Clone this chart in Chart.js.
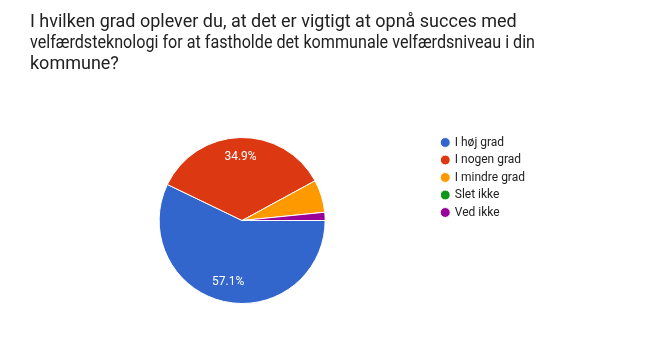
<!DOCTYPE html>
<html>
<head>
<meta charset="utf-8">
<script src="https://cdn.jsdelivr.net/npm/chart.js@4/dist/chart.umd.min.js"></script>
<style>
  html, body { margin: 0; padding: 0; background: #ffffff; }
  #wrap { width: 658px; height: 364px; }
</style>
</head>
<body>
<div id="wrap"><canvas id="c" width="658" height="364"></canvas></div>
<script>
const titleLines = [
  'I hvilken grad oplever du, at det er vigtigt at opnå succes med',
  'velfærdsteknologi for at fastholde det kommunale velfærdsniveau i din',
  'kommune?'
];
const categories = ['I høj grad', 'I nogen grad', 'I mindre grad', 'Slet ikke', 'Ved ikke'];
const responses = [36, 22, 4, 0, 1];
const sliceColors = ['#3366cc', '#dc3912', '#ff9900', '#109618', '#990099'];

const pctLabels = {
  id: 'pctLabels',
  afterDatasetsDraw(chart) {
    const meta = chart.getDatasetMeta(0);
    const data = chart.data.datasets[0].data;
    const total = data.reduce((a, b) => a + b, 0);
    const ctx = chart.ctx;
    ctx.save();
    ctx.font = '12px Roboto';
    ctx.fillStyle = '#ffffff';
    ctx.textAlign = 'center';
    ctx.textBaseline = 'middle';
    meta.data.forEach((arc, i) => {
      const frac = data[i] / total;
      if (frac < 0.1) return;
      const p = arc.getProps(['x', 'y', 'startAngle', 'endAngle', 'outerRadius'], true);
      const mid = (p.startAngle + p.endAngle) / 2;
      const r = p.outerRadius * 0.76;
      ctx.fillText((frac * 100).toFixed(1) + '%', p.x + Math.cos(mid) * r, p.y + Math.sin(mid) * r);
    });
    ctx.restore();
  }
};

new Chart(document.getElementById('c'), {
  type: 'pie',
  data: {
    labels: categories,
    datasets: [{
      data: responses,
      backgroundColor: sliceColors,
      borderColor: '#ffffff',
      borderWidth: 1,
      radius: 83
    }]
  },
  options: {
    responsive: false,
    animation: false,
    rotation: 90,
    layout: { padding: { left: 30, right: 123, top: 0, bottom: 54 } },
    plugins: {
      title: {
        display: true,
        text: titleLines,
        align: 'start',
        color: '#212121',
        font: { family: 'Roboto', size: 18, weight: 'normal', lineHeight: 1.1667 },
        padding: { top: 12, bottom: 56 }
      },
      subtitle: {
        display: true,
        position: 'left',
        text: ' ',
        font: { size: 1, lineHeight: 1 },
        padding: { top: 17, bottom: 0 }
      },
      legend: {
        display: true,
        position: 'right',
        align: 'start',
        fullSize: false,
        labels: {
          usePointStyle: true,
          pointStyle: 'circle',
          boxWidth: 7,
          boxHeight: 7,
          padding: 5.5,
          color: '#222222',
          font: { family: 'Roboto', size: 12 }
        }
      },
      tooltip: { enabled: false }
    }
  },
  plugins: [pctLabels]
});
</script>
</body>
</html>
